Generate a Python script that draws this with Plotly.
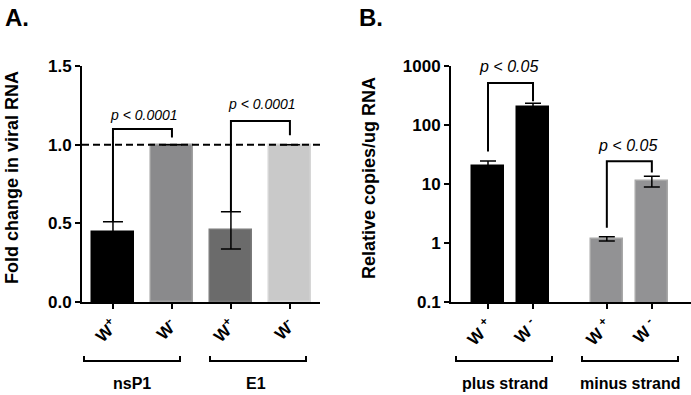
import plotly.graph_objects as go
import math

# ---------------- Data ----------------
# Panel A: fold change in viral RNA
a_groups = ["nsP1", "E1"]
a_ticklabels = ["W<sup>+</sup>", "W<sup>-</sup>", "W<sup>+</sup>", "W<sup>-</sup>"]
a_values = [0.445, 1.0, 0.455, 1.0]
a_errors = [0.065, 0.0, 0.118, 0.0]
a_pvalues = ["p < 0.0001", "p < 0.0001"]

# Panel B: relative copies / ug RNA (log scale)
b_groups = ["plus strand", "minus strand"]
b_ticklabels = ["W <sup>+</sup>", "W <sup>-</sup>", "W <sup>+</sup>", "W <sup>-</sup>"]
b_values = [20.2, 202.0, 1.18, 11.2]
b_errors = [4.3, 32.0, 0.1, 2.3]
b_pvalues = ["p < 0.05", "p < 0.05"]

a_yticks = [0.0, 0.5, 1.0, 1.5]
b_yticks = [0.1, 1, 10, 100, 1000]

# ---------------- Styles ----------------
a_colors = ["#000000", "#8a8a8c", "#6b6b6b", "#c9c9c9"]
a_edges = ["#000000", "#a0a0a0", "#7a7a7a", "#d6d6d6"]
b_colors = ["#000000", "#000000", "#929294", "#929294"]
b_edges = ["#000000", "#000000", "#a8a8a8", "#a8a8a8"]

FONT = "Liberation Sans, Arial, sans-serif"
W, H = 691, 395

def px(x):
    return x / W

def py(y):
    return 1 - y / H

def nz(arr):
    return [e if e else None for e in arr]

# bar positions: two per group
a_gap = 2.0
b_gap = 2.64
a_x = [g * a_gap + i for g in range(2) for i in range(2)]
b_x = [g * b_gap + i for g in range(2) for i in range(2)]

fig = go.Figure()

fig.add_trace(go.Bar(
    x=a_x, y=a_values, width=0.7,
    marker=dict(color=a_colors, line=dict(color=a_edges, width=1.5)),
    error_y=dict(type="data", array=nz(a_errors), color="black", thickness=1.5, width=10, visible=True),
    xaxis="x", yaxis="y", showlegend=False, hoverinfo="skip",
))
fig.add_trace(go.Bar(
    x=b_x, y=b_values, width=0.7,
    marker=dict(color=b_colors, line=dict(color=b_edges, width=1.5)),
    error_y=dict(type="data", array=nz(b_errors), color="black", thickness=1.5, width=8, visible=True),
    xaxis="x2", yaxis="y2", showlegend=False, hoverinfo="skip",
))

# significance brackets (panel A)
a_br_top = [1.10, 1.15]
a_br_right = [1.045, 1.06]
a_txt_y = [1.19, 1.26]
for g in range(2):
    i0, i1 = 2 * g, 2 * g + 1
    x0, x1 = a_x[i0], a_x[i1]
    fig.add_trace(go.Scatter(
        x=[x0, x0, x1, x1],
        y=[a_values[i0] + a_errors[i0], a_br_top[g], a_br_top[g], a_br_right[g]],
        mode="lines", line=dict(color="black", width=2),
        xaxis="x", yaxis="y", showlegend=False, hoverinfo="skip"))
    fig.add_annotation(x=(x0 + x1) / 2 + 0.03, y=a_txt_y[g], xref="x", yref="y",
                       text=a_pvalues[g], showarrow=False, xanchor="center", yanchor="middle",
                       font=dict(family=FONT, size=14, color="black", style="italic"))

# significance brackets (panel B)
b_br_low = [35.7, 1.82]
b_br_top = [513, 24.2]
b_br_right = [253, 15.7]
b_txt_y = [1000, 45]
for g in range(2):
    i0, i1 = 2 * g, 2 * g + 1
    x0, x1 = b_x[i0], b_x[i1]
    fig.add_trace(go.Scatter(
        x=[x0, x0, x1, x1],
        y=[b_br_low[g], b_br_top[g], b_br_top[g], b_br_right[g]],
        mode="lines", line=dict(color="black", width=2),
        xaxis="x2", yaxis="y2", showlegend=False, hoverinfo="skip"))
    fig.add_annotation(x=(x0 + x1) / 2 - 0.05, y=math.log10(b_txt_y[g]), xref="x2", yref="y2",
                       text=b_pvalues[g], showarrow=False, xanchor="center", yanchor="middle",
                       font=dict(family=FONT, size=16, color="black", style="italic"))

# dashed reference line at 1.0
fig.add_shape(type="line", xref="x domain", yref="y", x0=0, x1=1, y0=1.0, y1=1.0,
              line=dict(color="black", width=2, dash="7px,4px"))

# group brackets below axes
group_brackets = [
    (84, 180, 132, a_groups[0]),
    (210, 306, 256, a_groups[1]),
    (456, 552, 505, b_groups[0]),
    (582, 678, 630, b_groups[1]),
]
yb = 361
for xa, xb, xc, label in group_brackets:
    fig.add_shape(type="path", xref="paper", yref="paper",
                  path=f"M {px(xa)} {py(yb-5)} L {px(xa)} {py(yb)} L {px(xb)} {py(yb)} L {px(xb)} {py(yb-5)}",
                  line=dict(color="black", width=2))
    fig.add_annotation(x=px(xc), y=py(383), xref="paper", yref="paper", text=label,
                       showarrow=False, xanchor="center", yanchor="middle",
                       font=dict(family=FONT, size=16, color="black", weight="bold"))

# panel labels
fig.add_annotation(x=px(3), y=py(17), xref="paper", yref="paper", text="A.", showarrow=False,
                   xanchor="left", yanchor="middle",
                   font=dict(family=FONT, size=24, color="black", weight="bold"))
fig.add_annotation(x=px(357), y=py(17), xref="paper", yref="paper", text="B.", showarrow=False,
                   xanchor="left", yanchor="middle",
                   font=dict(family=FONT, size=24, color="black", weight="bold"))

# y axis titles
fig.add_annotation(x=px(12), y=py(178), xref="paper", yref="paper", text="Fold change in viral RNA",
                   textangle=-90, showarrow=False, xanchor="center", yanchor="middle",
                   font=dict(family=FONT, size=18, color="black", weight="bold"))
fig.add_annotation(x=px(369), y=py(178), xref="paper", yref="paper", text="Relative copies/ug RNA",
                   textangle=-90, showarrow=False, xanchor="center", yanchor="middle",
                   font=dict(family=FONT, size=18, color="black", weight="bold"))

ydom = [py(302), py(66)]
tickfont = dict(family=FONT, size=17, color="black", weight="bold")
xtickfont = dict(family=FONT, size=17, color="black", weight="bold")

axis_common = dict(showline=True, linecolor="black", linewidth=2, ticks="outside",
                   ticklen=5, tickwidth=2, tickcolor="black", showgrid=False, zeroline=False,
                   automargin=False)

fig.update_layout(
    width=W, height=H, autosize=False,
    margin=dict(l=0, r=0, t=0, b=0, pad=0, autoexpand=False),
    paper_bgcolor="white", plot_bgcolor="white",
    bargap=0,
    xaxis=dict(domain=[px(82), px(320)], range=[-0.525, 3.51], anchor="y",
               tickvals=a_x, ticktext=a_ticklabels, tickangle=-45, tickfont=xtickfont,
               **axis_common),
    yaxis=dict(domain=ydom, range=[0, 1.5], anchor="x",
               tickvals=a_yticks, ticktext=[f"{v:.1f}" for v in a_yticks], tickfont=tickfont,
               **axis_common),
    xaxis2=dict(domain=[px(451), 1.0], range=[-0.822, 4.51], anchor="y2",
                tickvals=b_x, ticktext=b_ticklabels, tickangle=-45, tickfont=xtickfont,
                **axis_common),
    yaxis2=dict(domain=ydom, type="log", range=[-1, 3], anchor="x2",
                tickvals=b_yticks, ticktext=[str(v) for v in b_yticks], tickfont=tickfont,
                **axis_common),
)

fig.write_html("out.html", config={"displayModeBar": False},
               post_script="document.body.style.margin='0';document.body.style.padding='0';")
